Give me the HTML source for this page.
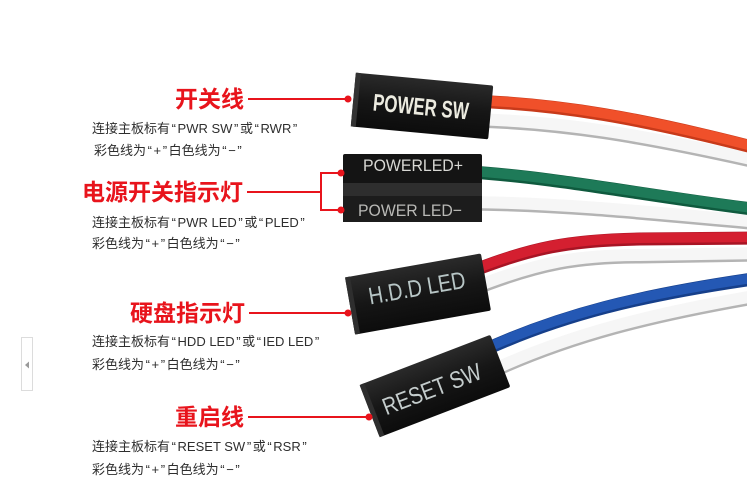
<!DOCTYPE html>
<html><head><meta charset="utf-8">
<style>
html,body{margin:0;padding:0;background:#fff;}
body{width:747px;height:489px;position:relative;overflow:hidden;font-family:"Liberation Sans","Noto Sans CJK SC",sans-serif;}
.lab{position:absolute;color:#e8141c;font-weight:bold;font-size:23px;line-height:23px;white-space:nowrap;font-family:"Liberation Sans","Noto Sans CJK SC",sans-serif;}
.d{position:absolute;color:#2e2e2e;font-size:13px;line-height:15px;white-space:nowrap;font-family:"Liberation Sans","Noto Sans CJK SC",sans-serif;}
.q{margin:0 1.6px;}
svg{position:absolute;left:0;top:0;}
</style></head><body>
<svg width="747" height="489" viewBox="0 0 747 489">
  <defs>
    <linearGradient id="blk" x1="0" y1="0" x2="0" y2="1">
      <stop offset="0" stop-color="#2a2a2a"/>
      <stop offset="0.5" stop-color="#161616"/>
      <stop offset="1" stop-color="#0c0c0c"/>
    </linearGradient>
  </defs>
  <!-- wires: white ones -->
  <g fill="none" stroke-linecap="butt">
    <path d="M470,121 C560,123 640,136 760,163" stroke="#b4b4b4" stroke-width="13"/>
    <path d="M470,119 C560,121 640,134 760,161" stroke="#f6f6f6" stroke-width="12"/>
    <path d="M470,204 C560,205 640,213 760,224" stroke="#b4b4b4" stroke-width="13"/>
    <path d="M470,202 C560,203 640,211 760,222" stroke="#f6f6f6" stroke-width="12"/>
    <path d="M470,291 C540,263 580,257 640,257 L760,255" stroke="#b4b4b4" stroke-width="13"/>
    <path d="M470,289 C540,261 580,255 640,255 L760,253" stroke="#f6f6f6" stroke-width="12"/>
    <path d="M490,373 C570,336 650,316 760,297" stroke="#b4b4b4" stroke-width="13"/>
    <path d="M490,371 C570,334 650,314 760,295" stroke="#f6f6f6" stroke-width="12"/>
    <!-- colored -->
    <path d="M470,101 C560,104 640,118 760,149" stroke="#c83a1a" stroke-width="13"/>
    <path d="M470,100 C560,103 640,117 760,148" stroke="#f0502a" stroke-width="10"/>
    <path d="M470,172 C560,178 640,195 760,210" stroke="#0f5a3e" stroke-width="13"/>
    <path d="M470,171 C560,177 640,194 760,209" stroke="#1e7a58" stroke-width="10"/>
    <path d="M470,272 C530,248 570,240 640,239 L760,238" stroke="#a81424" stroke-width="13"/>
    <path d="M470,271 C530,247 570,239 640,238 L760,237" stroke="#d41f30" stroke-width="10"/>
    <path d="M480,352 C560,315 640,295 760,278" stroke="#163f8a" stroke-width="13"/>
    <path d="M480,351 C560,314 640,294 760,277" stroke="#2458b4" stroke-width="10"/>
  </g>

  <!-- POWER SW connector -->
  <g transform="translate(422,106) rotate(5.4)">
    <rect x="-69" y="-27" width="138" height="54" rx="2" fill="url(#blk)"/>
    <rect x="-69" y="-27" width="5" height="54" fill="#333"/>
    <text x="-1" y="9" font-family="Liberation Sans" font-size="24" font-weight="bold" fill="#ecebe0" text-anchor="middle" textLength="96" lengthAdjust="spacingAndGlyphs">POWER SW</text>
  </g>

  <!-- POWER LED block -->
  <rect x="343" y="154" width="139" height="68" rx="2" fill="#141414"/>
  <rect x="343" y="183" width="139" height="13" fill="#2e2e2e"/>
  <rect x="343" y="196" width="139" height="26" fill="#1c1c1c"/>
  <text x="413" y="171" font-family="Liberation Sans" font-size="17" fill="#d8d8d4" text-anchor="middle" textLength="100" lengthAdjust="spacingAndGlyphs">POWERLED+</text>
  <text x="410" y="216" font-family="Liberation Sans" font-size="17" fill="#b9b9b6" text-anchor="middle" textLength="104" lengthAdjust="spacingAndGlyphs">POWER LED−</text>

  <!-- HDD LED connector -->
  <g transform="translate(418,294) rotate(-10)">
    <rect x="-69" y="-29" width="138" height="58" rx="2" fill="url(#blk)"/>
    <rect x="-69" y="-29" width="5" height="58" fill="#2e2e2e"/>
    <text x="0" y="2" font-family="Liberation Sans" font-size="24" fill="#b8c6c6" text-anchor="middle" textLength="98" lengthAdjust="spacingAndGlyphs">H.D.D LED</text>
  </g>

  <!-- RESET SW connector -->
  <g transform="translate(435,386) rotate(-21)">
    <rect x="-70" y="-28" width="140" height="56" rx="2" fill="url(#blk)"/>
    <rect x="-70" y="-28" width="5" height="56" fill="#2e2e2e"/>
    <text x="-4" y="10" font-family="Liberation Sans" font-size="24" fill="#c4cccc" text-anchor="middle" textLength="104" lengthAdjust="spacingAndGlyphs">RESET SW</text>
  </g>

  <!-- red leader lines -->
  <g stroke="#e8141c" stroke-width="2" fill="none">
    <line x1="248" y1="99" x2="348" y2="99"/>
    <line x1="247" y1="192" x2="321" y2="192"/>
    <line x1="321" y1="173" x2="321" y2="210"/>
    <line x1="320" y1="173" x2="341" y2="173"/>
    <line x1="320" y1="210" x2="341" y2="210"/>
    <line x1="249" y1="313" x2="348" y2="313"/>
    <line x1="248" y1="417" x2="369" y2="417"/>
  </g>
  <g fill="#e8141c">
    <circle cx="348" cy="99" r="3.5"/>
    <circle cx="341" cy="173" r="3.5"/>
    <circle cx="341" cy="210" r="3.5"/>
    <circle cx="348" cy="313" r="3.5"/>
    <circle cx="369" cy="417" r="3.5"/>
  </g>

  <!-- left tab -->
  <rect x="21.5" y="337.5" width="11" height="53" fill="#fff" stroke="#dcdcdc" stroke-width="1"/>
  <polygon points="25,365 29,361.5 29,368.5" fill="#9a9a9a"/>
</svg>

<div class="lab" style="left:175px;top:88px;">开关线</div>
<div class="d" style="left:92px;top:121px;">连接主板标有<span class="q">“</span>PWR SW<span class="q">”</span>或<span class="q">“</span>RWR<span class="q">”</span></div>
<div class="d" style="left:94px;top:143px;">彩色线为<span class="q">“</span>+<span class="q">”</span>白色线为<span class="q">“</span>−<span class="q">”</span></div>

<div class="lab" style="left:82px;top:181px;">电源开关指示灯</div>
<div class="d" style="left:92px;top:215px;">连接主板标有<span class="q">“</span>PWR LED<span class="q">”</span>或<span class="q">“</span>PLED<span class="q">”</span></div>
<div class="d" style="left:92px;top:236px;">彩色线为<span class="q">“</span>+<span class="q">”</span>白色线为<span class="q">“</span>−<span class="q">”</span></div>

<div class="lab" style="left:130px;top:302px;">硬盘指示灯</div>
<div class="d" style="left:92px;top:334px;">连接主板标有<span class="q">“</span>HDD LED<span class="q">”</span>或<span class="q">“</span>IED LED<span class="q">”</span></div>
<div class="d" style="left:92px;top:357px;">彩色线为<span class="q">“</span>+<span class="q">”</span>白色线为<span class="q">“</span>−<span class="q">”</span></div>

<div class="lab" style="left:175px;top:406px;">重启线</div>
<div class="d" style="left:92px;top:439px;">连接主板标有<span class="q">“</span>RESET SW<span class="q">”</span>或<span class="q">“</span>RSR<span class="q">”</span></div>
<div class="d" style="left:92px;top:462px;">彩色线为<span class="q">“</span>+<span class="q">”</span>白色线为<span class="q">“</span>−<span class="q">”</span></div>
</body></html>
